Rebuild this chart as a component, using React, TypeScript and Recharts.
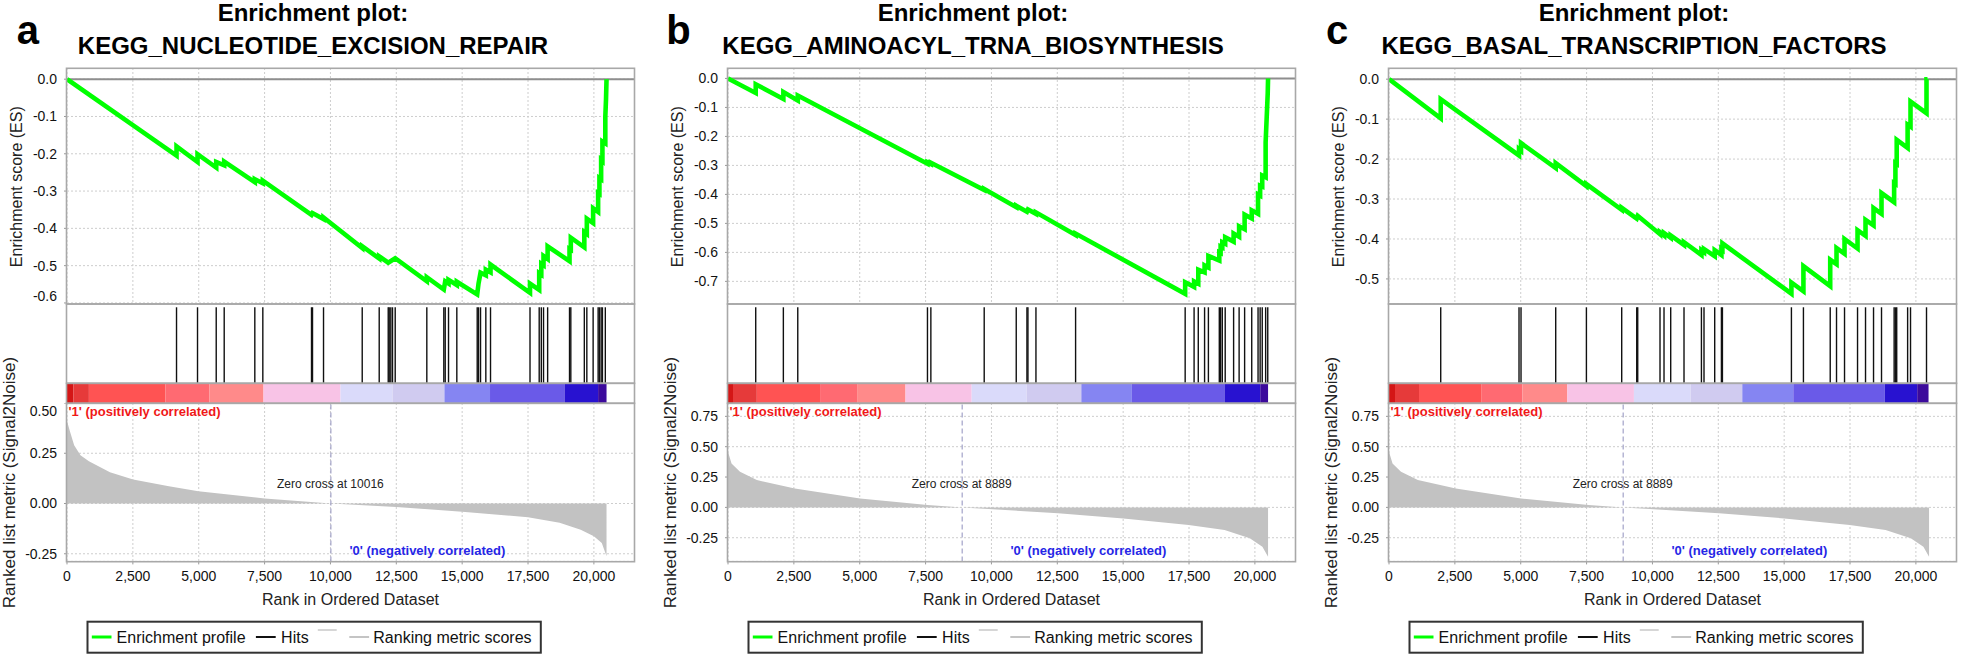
import React from 'react'
import {
  LineChart, Line, AreaChart, Area, ComposedChart, XAxis, YAxis, CartesianGrid,
  ReferenceLine, ReferenceArea,
} from 'recharts'

const FONT = "'Liberation Sans', Arial, Helvetica, sans-serif"

// shared rank axis (ordered dataset, ~20.5k genes)
const X_MAX = 21560
const rankTicks = [0, 2500, 5000, 7500, 10000, 12500, 15000, 17500, 20000]

// colour bar, red ('1' end) to blue ('0' end)
const bandColors = [
  '#d41616', '#e63a3a', '#ff5353', '#ff6a72', '#ff8a8a', '#f8c3e6',
  '#dadafa', '#d0cbf0', '#8585f2', '#6a5ae8', '#2812d0', '#3c0a9c',
]

// ---- a: KEGG_NUCLEOTIDE_EXCISION_REPAIR
const hitsA = [
  4157, 4954, 5664, 5967, 7129, 7433, 9281, 9319, 9737, 11206, 11851, 12193, 12231,
  12292, 12356, 12458, 13658, 14303, 14356, 14482, 14797, 15571, 15621, 15697, 15898,
  16076, 17575, 17924, 18004, 18088, 18244, 19075, 19124, 19637, 19732, 19971, 20161,
  20210, 20275, 20324, 20434,
]
const esA = [
  [0, 0], [4157, -0.205], [4157, -0.18], [4954, -0.222], [4954, -0.201],
  [5664, -0.237], [5664, -0.222], [5967, -0.231], [5967, -0.221],
  [7129, -0.276], [7129, -0.268], [7433, -0.279], [7433, -0.272],
  [9281, -0.364], [9319, -0.359], [9737, -0.375], [9737, -0.371],
  [11206, -0.453], [11206, -0.448], [11851, -0.481], [11851, -0.475],
  [12193, -0.492], [12458, -0.48], [13658, -0.542], [13658, -0.531],
  [14303, -0.564], [14356, -0.542], [14482, -0.548], [14482, -0.538],
  [14797, -0.552], [14797, -0.543], [15571, -0.577], [15621, -0.548], [15697, -0.519],
  [15898, -0.526], [15898, -0.511], [16076, -0.518], [16076, -0.497],
  [17575, -0.573], [17575, -0.548], [17924, -0.565], [17924, -0.52],
  [18004, -0.524], [18004, -0.495], [18088, -0.499], [18088, -0.474],
  [18244, -0.482], [18244, -0.448], [19075, -0.488], [19075, -0.455],
  [19124, -0.457], [19124, -0.425], [19637, -0.451], [19637, -0.41],
  [19732, -0.415], [19732, -0.374], [19971, -0.386], [19971, -0.346],
  [20161, -0.356], [20161, -0.305], [20210, -0.307], [20210, -0.265],
  [20275, -0.268], [20275, -0.216], [20324, -0.219], [20324, -0.167],
  [20434, -0.172], [20434, -0.1], [20460, -0.055], [20480, 0],
]
const esTicksA = [0, -0.1, -0.2, -0.3, -0.4, -0.5, -0.6]
const bandEdgesA = [0, 239, 831, 3739, 5409, 7459, 10382, 12356, 14327, 16057, 18885, 20160, 20480]
const metricA = [
  [0, 0.41], [110, 0.36], [271, 0.29], [511, 0.24], [831, 0.21], [1630, 0.155],
  [2508, 0.12], [3867, 0.086], [4985, 0.061], [7500, 0.025], [10016, 0],
  [12500, -0.017], [15000, -0.041], [17500, -0.068], [18700, -0.096], [19500, -0.13],
  [20000, -0.163], [20300, -0.196], [20480, -0.262],
]
const metricTicksA = [-0.25, 0, 0.25, 0.5]

// ---- b: KEGG_AMINOACYL_TRNA_BIOSYNTHESIS
const hitsB = [
  1052, 2101, 2648, 7571, 7700, 9725, 10941, 11347, 11385, 11689, 13194, 17353, 17692,
  17851, 18090, 18235, 18649, 18699, 18763, 18873, 19192, 19401, 19610, 19880, 20120,
  20199, 20279, 20408, 20488,
]
const esB = [
  [0, 0], [1052, -0.05], [1052, -0.02], [2101, -0.071], [2101, -0.047],
  [2648, -0.076], [2648, -0.059], [7571, -0.294], [7571, -0.289], [7700, -0.295], [7700, -0.291],
  [9725, -0.385], [9725, -0.381], [10941, -0.444], [10941, -0.439],
  [11347, -0.46], [11385, -0.452], [11689, -0.467], [11689, -0.462],
  [13194, -0.54], [13194, -0.535], [17353, -0.743], [17353, -0.703],
  [17692, -0.719], [17692, -0.7], [17851, -0.708], [17851, -0.66],
  [18090, -0.669], [18090, -0.645], [18235, -0.652], [18235, -0.612],
  [18649, -0.628], [18649, -0.6], [18699, -0.602], [18699, -0.58],
  [18763, -0.583], [18763, -0.565], [18873, -0.57], [18873, -0.548],
  [19192, -0.563], [19192, -0.535], [19401, -0.546], [19401, -0.51],
  [19610, -0.52], [19610, -0.47], [19880, -0.483], [19880, -0.455],
  [20120, -0.467], [20120, -0.4], [20199, -0.404], [20199, -0.37],
  [20279, -0.373], [20279, -0.335], [20408, -0.341], [20408, -0.22],
  [20488, -0.05], [20500, 0],
]
const esTicksB = [0, -0.1, -0.2, -0.3, -0.4, -0.5, -0.6, -0.7]
const bandEdgesB = [0, 190, 1094, 3494, 4900, 6738, 9250, 11337, 13412, 15330, 18846, 20203, 20500]
const metricB = [
  [0, 0.458], [133, 0.362], [456, 0.293], [1094, 0.225], [2535, 0.156], [5012, 0.074],
  [7573, 0.019], [8889, 0], [10051, -0.016], [12529, -0.049], [15010, -0.091],
  [17488, -0.146], [18849, -0.187], [19806, -0.255], [20285, -0.325], [20500, -0.407],
]
const metricTicksB = [-0.25, 0, 0.25, 0.5, 0.75]

// ---- c: KEGG_BASAL_TRANSCRIPTION_FACTORS (same ranked list as b)
const hitsC = [
  1963, 4935, 5011, 6328, 7493, 8833, 9403, 9441, 10287, 10439, 10693, 11198, 11859,
  11957, 12363, 12618, 12656, 15275, 15731, 16748, 16987, 17291, 17785, 18088, 18392,
  18695, 19174, 19223, 19272, 19686, 19796, 20403,
]
const esC = [
  [0, 0], [1963, -0.098], [1963, -0.05], [4935, -0.191], [4935, -0.175],
  [5011, -0.179], [5011, -0.16], [6328, -0.2225], [6328, -0.21],
  [7493, -0.2675], [7493, -0.2625], [8833, -0.327], [8833, -0.322],
  [9403, -0.349], [9441, -0.342], [10287, -0.388], [10287, -0.383],
  [10439, -0.391], [10439, -0.385], [10693, -0.397], [10693, -0.391],
  [11198, -0.415], [11198, -0.408], [11859, -0.44], [11859, -0.428],
  [11957, -0.433], [11957, -0.425], [12363, -0.443], [12363, -0.428],
  [12618, -0.44], [12618, -0.425], [12656, -0.427], [12656, -0.411],
  [15275, -0.537], [15275, -0.509], [15731, -0.531], [15731, -0.468],
  [16748, -0.518], [16748, -0.452], [16987, -0.463], [16987, -0.4225],
  [17291, -0.437], [17291, -0.4], [17785, -0.424], [17785, -0.378],
  [18088, -0.392], [18088, -0.352], [18392, -0.366], [18392, -0.3225],
  [18695, -0.337], [18695, -0.285], [19174, -0.308], [19174, -0.26],
  [19223, -0.262], [19223, -0.21], [19272, -0.212], [19272, -0.152],
  [19686, -0.172], [19686, -0.114], [19796, -0.119], [19796, -0.056],
  [20403, -0.085], [20403, 0], [20440, 0],
]
const esTicksC = [0, -0.1, -0.2, -0.3, -0.4, -0.5]
const bandEdgesC = [0, 228, 1138, 3518, 5063, 6770, 9297, 11448, 13410, 15346, 18820, 20050, 20480]

// layout (px)
const PW = 568
const AXW = 70
const ES_TOP = 68.3
const ES_BOTTOM = 304
const HITS_BOTTOM = 383.3
const BAR_BOTTOM = 403.3
const METRIC_BOTTOM = 561.7

interface PanelProps {
  left: number
  letter: string
  letterX: number
  titleX: number
  geneSet: string
  es: number[][]
  esDomain: [number, number]
  esTicks: number[]
  hits: number[]
  bandEdges: number[]
  metric: number[][]
  metricDomain: [number, number]
  metricTicks: number[]
  zeroCross: number
}

const tickStyle = { fontSize: 14, fill: '#111', fontFamily: FONT }
const gridColor = '#cdcdcd'
const frame = '#a8a8a8'

function Panel(p: PanelProps) {
  const esData = p.es.map(([rank, es]) => ({ rank, es }))
  const metricData = p.metric.map(([rank, v]) => ({ rank, v }))
  const bands = p.bandEdges.slice(0, -1).map((x1, i) => ({ x1, x2: p.bandEdges[i + 1], color: bandColors[i] }))
  const L = p.left
  const zx = L + (p.zeroCross / X_MAX) * PW

  return (
    <>
      {/* running enrichment score */}
      <div style={{ position: 'absolute', left: L - AXW, top: ES_TOP }}>
        <LineChart width={AXW + PW} height={ES_BOTTOM - ES_TOP} data={esData}
          margin={{ top: 0, right: 0, bottom: 0, left: 0 }}>
          <CartesianGrid stroke={gridColor} strokeDasharray="2 2" />
          <XAxis type="number" dataKey="rank" domain={[0, X_MAX]} ticks={rankTicks} allowDataOverflow hide />
          <YAxis type="number" domain={p.esDomain} ticks={p.esTicks} allowDataOverflow width={AXW}
            tickFormatter={(v: number) => v.toFixed(1)} tick={tickStyle}
            axisLine={false} tickLine={{ stroke: '#999' }} tickSize={3} tickMargin={7} />
          <ReferenceLine y={0} stroke="#8e8e8e" strokeWidth={2} />
          <Line type="linear" dataKey="es" stroke="#00ff00" strokeWidth={4.6} dot={false}
            strokeLinejoin="miter" isAnimationActive={false} />
        </LineChart>
      </div>

      {/* hits + colour bar */}
      <div style={{ position: 'absolute', left: L, top: ES_BOTTOM }}>
        <ComposedChart width={PW} height={BAR_BOTTOM - ES_BOTTOM}
          margin={{ top: 0, right: 0, bottom: 0, left: 0 }}>
          <XAxis type="number" dataKey="rank" domain={[0, X_MAX]} allowDataOverflow hide />
          <YAxis type="number" domain={[0, 1]} allowDataOverflow hide />
          {bands.map((b, i) => (
            <ReferenceArea key={'b' + i} x1={b.x1} x2={b.x2} y1={0} y2={0.2}
              fill={b.color} fillOpacity={1} stroke="none" />
          ))}
          {p.hits.map((h, i) => (
            <ReferenceLine key={'h' + i} segment={[{ x: h, y: 0.2 }, { x: h, y: 0.967 }]}
              stroke="#111" strokeWidth={1.4} />
          ))}
        </ComposedChart>
      </div>

      {/* ranked list metric */}
      <div style={{ position: 'absolute', left: L - AXW, top: BAR_BOTTOM }}>
        <AreaChart width={AXW + PW} height={METRIC_BOTTOM - BAR_BOTTOM + 30} data={metricData}
          margin={{ top: 0, right: 0, bottom: 0, left: 0 }}>
          <CartesianGrid stroke={gridColor} strokeDasharray="2 2" />
          <XAxis type="number" dataKey="rank" domain={[0, X_MAX]} ticks={rankTicks} allowDataOverflow
            height={30} tickFormatter={(v: number) => v.toLocaleString('en-US')} tick={tickStyle}
            axisLine={false} tickLine={{ stroke: '#999' }} tickSize={3} tickMargin={7} />
          <YAxis type="number" domain={p.metricDomain} ticks={p.metricTicks} allowDataOverflow width={AXW}
            tickFormatter={(v: number) => v.toFixed(2)} tick={tickStyle}
            axisLine={false} tickLine={{ stroke: '#999' }} tickSize={3} tickMargin={7} />
          <Area type="linear" dataKey="v" stroke="none" fill="#c2c2c2" fillOpacity={1}
            baseValue={0} isAnimationActive={false} />
          <ReferenceLine x={p.zeroCross} stroke="#a3a3c8" strokeWidth={1.2} strokeDasharray="5 3" />
        </AreaChart>
      </div>

      {/* frames and text */}
      <svg width={1961} height={657} style={{ position: 'absolute', left: 0, top: 0, pointerEvents: 'none' }}
        fontFamily={FONT}>
        <rect x={L} y={ES_TOP} width={PW} height={ES_BOTTOM - ES_TOP} fill="none" stroke={frame} strokeWidth={1.6} />
        <rect x={L} y={ES_BOTTOM} width={PW} height={HITS_BOTTOM - ES_BOTTOM} fill="none" stroke={frame} strokeWidth={1.6} />
        <rect x={L} y={HITS_BOTTOM} width={PW} height={BAR_BOTTOM - HITS_BOTTOM} fill="none" stroke={frame} strokeWidth={1.6} />
        <rect x={L} y={BAR_BOTTOM} width={PW} height={METRIC_BOTTOM - BAR_BOTTOM} fill="none" stroke={frame} strokeWidth={1.6} />

        <text x={p.letterX} y={44} fontSize={40} fontWeight="bold" fill="#000">{p.letter}</text>
        <text x={p.titleX} y={21} fontSize={24} fontWeight="bold" textAnchor="middle" fill="#000">Enrichment plot:</text>
        <text x={p.titleX} y={53.5} fontSize={24} fontWeight="bold" textAnchor="middle" fill="#000">{p.geneSet}</text>

        <text transform={`rotate(-90 ${L - 50} 186.7)`} x={L - 50} y={186.7} fontSize={16}
          textAnchor="middle" dominantBaseline="central" fill="#222">Enrichment score (ES)</text>
        <text transform={`rotate(-90 ${L - 57.5} 482.5)`} x={L - 57.5} y={482.5} fontSize={17}
          textAnchor="middle" dominantBaseline="central" fill="#222">Ranked list metric (Signal2Noise)</text>
        <text x={L + PW / 2} y={605} fontSize={16} textAnchor="middle" fill="#222">Rank in Ordered Dataset</text>

        <text x={L + 2} y={415.5} fontSize={13} fontWeight="bold" fill="#f01818">'1' (positively correlated)</text>
        <text x={L + 283} y={554.7} fontSize={13} fontWeight="bold" fill="#2626e6">'0' (negatively correlated)</text>
        <text x={zx} y={487.6} fontSize={12} textAnchor="middle" fill="#222">Zero cross at {p.zeroCross}</text>

        <rect x={L + 21} y={621.7} width={453.3} height={31} fill="#fff" stroke="#333" strokeWidth={2} />
        <line x1={L + 25.3} x2={L + 45} y1={637} y2={637} stroke="#00ff00" strokeWidth={3} />
        <text x={L + 50.1} y={643} fontSize={16} fill="#111">Enrichment profile</text>
        <line x1={L + 189.4} x2={L + 209.2} y1={637} y2={637} stroke="#111" strokeWidth={2} />
        <text x={L + 214.6} y={643} fontSize={16} fill="#111">Hits</text>
        <line x1={L + 251.3} x2={L + 270.2} y1={630} y2={630} stroke="#d6d6d6" strokeWidth={2} />
        <line x1={L + 282.8} x2={L + 302.6} y1={637} y2={637} stroke="#c4c4c4" strokeWidth={2} />
        <text x={L + 306.8} y={643} fontSize={16} fill="#111">Ranking metric scores</text>
      </svg>
    </>
  )
}

export default function App() {
  return (
    <div style={{ position: 'absolute', left: 0, top: 0, width: 1961, height: 657, background: '#fff', overflow: 'hidden' }}>
      <Panel left={66.5} letter="a" letterX={16.8} titleX={313} geneSet="KEGG_NUCLEOTIDE_EXCISION_REPAIR"
        es={esA} esDomain={[-0.602, 0.03]} esTicks={esTicksA} hits={hitsA} bandEdges={bandEdgesA}
        metric={metricA} metricDomain={[-0.288, 0.5]} metricTicks={metricTicksA} zeroCross={10016} />
      <Panel left={727.5} letter="b" letterX={666.3} titleX={973} geneSet="KEGG_AMINOACYL_TRNA_BIOSYNTHESIS"
        es={esB} esDomain={[-0.777, 0.036]} esTicks={esTicksB} hits={hitsB} bandEdges={bandEdgesB}
        metric={metricB} metricDomain={[-0.445, 0.86]} metricTicks={metricTicksB} zeroCross={8889} />
      <Panel left={1388.5} letter="c" letterX={1326} titleX={1634} geneSet="KEGG_BASAL_TRANSCRIPTION_FACTORS"
        es={esC} esDomain={[-0.562, 0.028]} esTicks={esTicksC} hits={hitsC} bandEdges={bandEdgesC}
        metric={metricB} metricDomain={[-0.445, 0.86]} metricTicks={metricTicksB} zeroCross={8889} />
    </div>
  )
}
